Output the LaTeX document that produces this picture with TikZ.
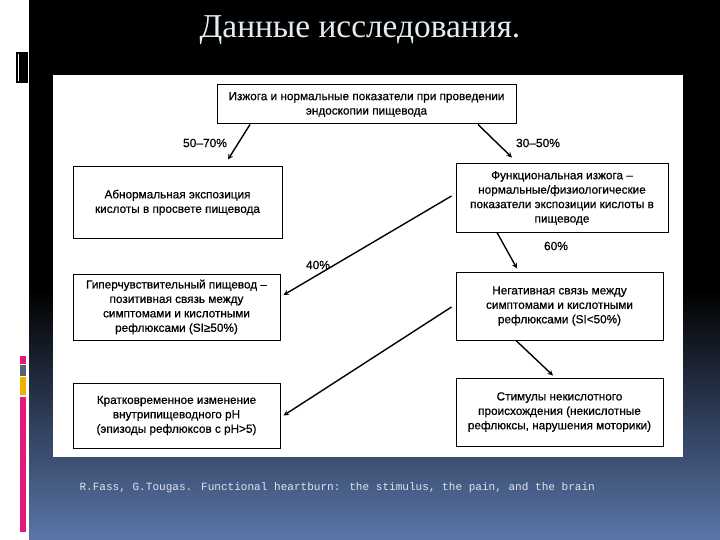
\documentclass[tikz,border=0pt]{standalone}
\usepackage{fontspec}
\setmainfont{Liberation Sans}
\newfontfamily\boxfont{Liberation Sans}[BoldFont={Liberation Sans},BoldFeatures={FakeBold=0.6}]
\newfontfamily\titlefont{Liberation Serif}
\newfontfamily\reffont{Liberation Mono}
\usetikzlibrary{calc}

\definecolor{slideblue}{RGB}{90,118,170}
\definecolor{titletext}{RGB}{226,236,244}
\definecolor{reftext}{RGB}{222,228,238}
\definecolor{barpink}{RGB}{226,24,122}
\definecolor{bargrey}{RGB}{88,98,110}
\definecolor{baryellow}{RGB}{240,178,0}

\begin{document}
\begin{tikzpicture}[x=1bp,y=-1bp,
		box/.style={draw,line width=1pt,align=center,inner sep=0pt,
			font=\boxfont\bfseries\fontsize{11.8}{14.5}\selectfont},
		link/.style={-stealth,line width=1.4pt},
		pct/.style={font=\boxfont\bfseries\fontsize{12}{12}\selectfont}]
		\useasboundingbox (0,0) rectangle (720,540);
		
		% slide background
		\fill[white] (0,0) rectangle (720,540);
		\fill[black] (29,0) rectangle (720,290);
		\shade[top color=black,bottom color=slideblue] (29,290) rectangle (720,540);
		\fill[white] (53,75) rectangle (683,457);
		
		% left decoration
		\fill[black] (16,52) rectangle (28,83);
		\draw[white,line width=0.6pt] (18.5,54) -- (18.5,81);
		\fill[barpink] (20,356) rectangle (26,364);
		\fill[bargrey] (20,365) rectangle (26,376);
		\fill[baryellow] (20,377) rectangle (26,395);
		\fill[barpink] (20,397) rectangle (26,532);
		
		\node[text=titletext,font=\titlefont\fontsize{33.5}{33}\selectfont] (title) at (360,30) {Данные исследования.};
		
		% boxes
		\node[box,minimum width=299bp,minimum height=39bp] (top) at (366.5,104.5) {Изжога и нормальные показатели при проведении\\эндоскопии пищевода};
		\node[box,minimum width=209bp,minimum height=71bp] (abn) at (177.5,202.5) {Абнормальная экспозиция\\кислоты в просвете пищевода};
		\node[box,minimum width=212bp,minimum height=68bp] (func) at (562,198) {Функциональная изжога –\\нормальные/физиологические\\показатели экспозиции кислоты в\\пищеводе};
		\node[box,minimum width=207bp,minimum height=66bp] (hyper) at (176.5,307) {Гиперчувствительный пищевод –\\позитивная связь между\\симптомами и кислотными\\рефлюксами (SI≥50\%)};
		\node[box,minimum width=207bp,minimum height=68bp] (neg) at (559.5,306) {Негативная связь между\\симптомами и кислотными\\рефлюксами (SI<50\%)};
		\node[box,minimum width=207bp,minimum height=65bp] (short) at (176.5,415.5) {Кратковременное изменение\\внутрипищеводного pH\\(эпизоды рефлюксов с pH>5)};
		\node[box,minimum width=207bp,minimum height=68bp] (stim) at (559.5,412) {Стимулы некислотного\\происхождения (некислотные\\рефлюксы, нарушения моторики)};
		
		% arrows
		\draw[link] ([xshift=-116.5bp]top.south) -- ([xshift=50.5bp,yshift=7bp]abn.north);
		\draw[link] ([xshift=111.5bp]top.south) -- ([xshift=-50bp,yshift=6bp]func.north);
		\draw[link] ([xshift=-4bp,yshift=2bp]func.west) -- ([xshift=3bp,yshift=12bp]hyper.east);
		\draw[link] ([xshift=-65bp]func.south) -- ([xshift=-42.5bp,yshift=3bp]neg.north);
		\draw[link] ([xshift=-4bp,yshift=-1bp]neg.west) -- ([xshift=3bp]short.east);
		\draw[link] ([xshift=-43.5bp]neg.south) -- ([xshift=-6.5bp,yshift=2bp]stim.north);
		
		\node[pct] (p5070) at (205,143) {50–70\%};
		\node[pct] (p3050) at (538,143) {30–50\%};
		\node[pct] (p40) at (318,265) {40\%};
		\node[pct] (p60) at (556,246) {60\%};
		
		\node[anchor=west,text=reftext,font=\reffont\fontsize{11.1}{11}\selectfont] (ref) at (76,488) {R.Fass, G.Tougas. Functional heartburn: the stimulus, the pain, and the brain};
	\end{tikzpicture}
\end{document}
